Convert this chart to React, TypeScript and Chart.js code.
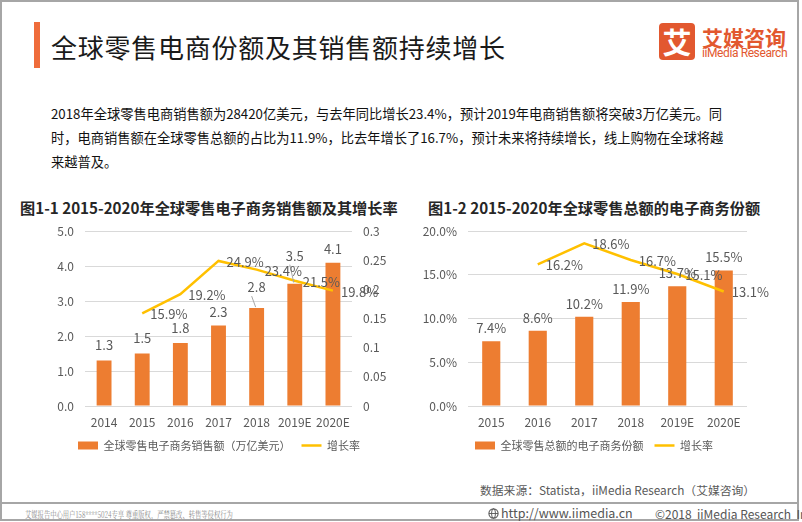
import React, { useEffect, useRef } from 'react';
import { Chart, registerables } from 'chart.js';

Chart.register(...registerables);

const FONT = "'Noto Sans CJK SC', 'Noto Sans', sans-serif";
const ORANGE = '#ED7D31';
const GOLD = '#FFC000';
const GREY = '#595959';

// Chart 1 data
const years1 = ['2014', '2015', '2016', '2017', '2018', '2019E', '2020E'];
const sales1 = [1.3, 1.5, 1.8, 2.3, 2.8, 3.5, 4.1];
const growth1 = [null, 0.159, 0.192, 0.249, 0.234, 0.215, 0.198];
const leftTicks1 = [0, 1, 2, 3, 4, 5];
const rightTicks1 = [0, 0.05, 0.1, 0.15, 0.2, 0.25, 0.3];

// Chart 2 data
const years2 = ['2015', '2016', '2017', '2018', '2019E', '2020E'];
const share2 = [7.4, 8.6, 10.2, 11.9, 13.7, 15.5];
const growth2 = [null, 16.2, 18.6, 16.7, 15.1, 13.1];
const ticks2 = [0, 5, 10, 15, 20];

const legendSales = '全球零售电子商务销售额（万亿美元）';
const legendShare = '全球零售总额的电子商务份额';
const legendGrowth = '增长率';

// label layout (distance of each bar's value label above the bar top, px)
const barLabelLift1 = [15, 15, 15, 14, 21, 28, 14];
const barLabelLift2 = [13, 13, 13, 13, 13, 13];

function makeLabelPlugin(
  fmtBar: (v: number) => string,
  fmtLine: (v: number) => string,
  lift: number[]
) {
  return {
    id: 'valueLabels',
    afterDatasetsDraw(chart: any) {
      const ctx = chart.ctx;
      ctx.save();
      ctx.font = `13px ${FONT}`;
      ctx.textBaseline = 'middle';
      chart.data.datasets.forEach((ds: any, i: number) => {
        const meta = chart.getDatasetMeta(i);
        meta.data.forEach((el: any, j: number) => {
          const v = ds.data[j];
          if (v == null) return;
          ctx.fillStyle = GREY;
          if (meta.type === 'bar') {
            const d = lift[j];
            ctx.textAlign = 'center';
            ctx.fillText(fmtBar(v), el.x, el.y - d);
            if (d > 18) {
              // leader line for a moved label
              ctx.strokeStyle = '#a6a6a6';
              ctx.lineWidth = 1;
              ctx.beginPath();
              ctx.moveTo(el.x - 5, el.y - d + 9);
              ctx.lineTo(el.x - 1, el.y - 1);
              ctx.stroke();
            }
          } else {
            ctx.textAlign = 'left';
            ctx.fillText(fmtLine(v), el.x + 8, el.y + 1);
          }
        });
      });
      ctx.restore();
    },
  };
}

function legendOptions() {
  return {
    position: 'bottom',
    labels: {
      usePointStyle: true,
      pointStyleWidth: 20,
      boxHeight: 8,
      padding: 11,
      color: GREY,
      font: { size: 11, family: FONT },
      generateLabels(chart: any) {
        const items = (Chart as any).defaults.plugins.legend.labels.generateLabels(chart);
        items.sort((a: any, b: any) => a.datasetIndex - b.datasetIndex);
        items.forEach((it: any) => {
          const ds = chart.data.datasets[it.datasetIndex];
          if (ds.type === 'line') {
            it.pointStyle = 'line';
            it.strokeStyle = GOLD;
            it.lineWidth = 2.5;
          } else {
            it.pointStyle = 'rect';
            it.fillStyle = ORANGE;
            it.lineWidth = 0;
          }
        });
        return items;
      },
    },
  };
}

const tickFont = { size: 12, family: FONT };

const xScale = {
  grid: { display: false, drawTicks: false },
  border: { display: false },
  ticks: { color: GREY, font: tickFont, padding: 9, maxRotation: 0 },
  afterFit: (s: any) => { s.height = 23; },
};

function config1(): any {
  return {
    data: {
      labels: years1,
      datasets: [
        {
          type: 'bar',
          label: legendSales,
          data: sales1,
          backgroundColor: ORANGE,
          borderWidth: 0,
          categoryPercentage: 1,
          barPercentage: 0.39,
          yAxisID: 'y',
          order: 1,
        },
        {
          type: 'line',
          label: legendGrowth,
          data: growth1,
          borderColor: GOLD,
          backgroundColor: GOLD,
          borderWidth: 2.5,
          pointRadius: 0,
          tension: 0,
          yAxisID: 'y1',
          order: 0,
        },
      ],
    },
    options: {
      responsive: false,
      animation: false,
      layout: { padding: { top: 6, left: 0, right: 0, bottom: 0 } },
      plugins: { legend: legendOptions(), tooltip: { enabled: false } },
      scales: {
        x: xScale,
        y: {
          position: 'left',
          min: leftTicks1[0],
          max: leftTicks1[leftTicks1.length - 1],
          afterBuildTicks: (s: any) => { s.ticks = leftTicks1.map((v) => ({ value: v })); },
          ticks: { color: GREY, font: tickFont, padding: 11, callback: (v: number) => v.toFixed(1) },
          grid: { color: '#D9D9D9', drawTicks: false, lineWidth: 1 },
          border: { display: false },
          afterFit: (s: any) => { s.width = 47; },
        },
        y1: {
          position: 'right',
          min: rightTicks1[0],
          max: rightTicks1[rightTicks1.length - 1],
          afterBuildTicks: (s: any) => { s.ticks = rightTicks1.map((v) => ({ value: v })); },
          ticks: { color: GREY, font: tickFont, padding: 11, callback: (v: number) => String(+v.toFixed(2)) },
          grid: { display: false, drawTicks: false },
          border: { display: false },
          afterFit: (s: any) => { s.width = 48; },
        },
      },
    },
    plugins: [makeLabelPlugin((v) => v.toFixed(1), (v) => (v * 100).toFixed(1) + '%', barLabelLift1)],
  };
}

function config2(): any {
  return {
    data: {
      labels: years2,
      datasets: [
        {
          type: 'bar',
          label: legendShare,
          data: share2,
          backgroundColor: ORANGE,
          borderWidth: 0,
          categoryPercentage: 1,
          barPercentage: 0.39,
          yAxisID: 'y',
          order: 1,
        },
        {
          type: 'line',
          label: legendGrowth,
          data: growth2,
          borderColor: GOLD,
          backgroundColor: GOLD,
          borderWidth: 2.5,
          pointRadius: 0,
          tension: 0,
          yAxisID: 'y',
          order: 0,
        },
      ],
    },
    options: {
      responsive: false,
      animation: false,
      layout: { padding: { top: 6, left: 0, right: 0, bottom: 0 } },
      plugins: { legend: legendOptions(), tooltip: { enabled: false } },
      scales: {
        x: xScale,
        y: {
          position: 'left',
          min: ticks2[0],
          max: ticks2[ticks2.length - 1],
          afterBuildTicks: (s: any) => { s.ticks = ticks2.map((v) => ({ value: v })); },
          ticks: { color: GREY, font: tickFont, padding: 11, callback: (v: number) => v.toFixed(1) + '%' },
          grid: { color: '#D9D9D9', drawTicks: false, lineWidth: 1 },
          border: { display: false },
          afterFit: (s: any) => { s.width = 56; },
        },
        // empty right-hand spacer axis keeps the legend centred like the original
        yPad: {
          position: 'right',
          ticks: { display: false },
          grid: { display: false, drawTicks: false },
          border: { display: false },
          afterFit: (s: any) => { s.width = 29; },
        },
      },
    },
    plugins: [makeLabelPlugin((v) => v.toFixed(1) + '%', (v) => v.toFixed(1) + '%', barLabelLift2)],
  };
}

function ChartCanvas({ make, left, top, width, height }: any) {
  const ref = useRef<HTMLCanvasElement>(null);
  useEffect(() => {
    const chart = new Chart(ref.current as HTMLCanvasElement, make());
    return () => chart.destroy();
  }, []);
  return (
    <canvas
      ref={ref}
      width={width}
      height={height}
      style={{ position: 'absolute', left, top, width, height }}
    />
  );
}

function Text({ left, cy, size, lh, children, style }: any) {
  const h = lh || Math.round(size * 1.4);
  return (
    <div
      style={{
        position: 'absolute',
        left,
        top: cy - h / 2,
        height: h,
        lineHeight: h + 'px',
        fontSize: size,
        fontFamily: FONT,
        whiteSpace: 'nowrap',
        ...style,
      }}
    >
      {children}
    </div>
  );
}

export default function App() {
  return (
    <div
      style={{
        position: 'fixed',
        left: 0,
        top: 0,
        width: 802,
        height: 522,
        background: '#fff',
        overflow: 'hidden',
        fontFamily: FONT,
      }}
    >
      {/* frame */}
      <div
        style={{
          position: 'absolute',
          left: 0,
          top: 0,
          width: 799,
          height: 521,
          boxSizing: 'border-box',
          border: '2px solid #a6a6a6',
        }}
      />
      {/* footer separator */}
      <div style={{ position: 'absolute', left: 0, top: 502, width: 799, height: 2, background: '#a6a6a6' }} />

      {/* title */}
      <div style={{ position: 'absolute', left: 34, top: 22, width: 6, height: 46, background: '#EF6C3B' }} />
      <Text left={51} cy={47} size={26} style={{ color: '#1a1a1a', letterSpacing: 0.75 }}>
        全球零售电商份额及其销售额持续增长
      </Text>

      {/* logo */}
      <div
        style={{
          position: 'absolute',
          left: 659,
          top: 23,
          width: 36,
          height: 37,
          borderRadius: 4,
          background: '#E2582F',
          color: '#fff',
          fontSize: 29,
          fontWeight: 700,
          lineHeight: '37px',
          textAlign: 'center',
          fontFamily: FONT,
        }}
      >
        艾
      </div>
      <Text left={702} cy={37} size={21} style={{ color: '#E2582F', fontWeight: 700, letterSpacing: 0 }}>
        艾媒咨询
      </Text>
      <Text left={702} cy={53} size={12} style={{ color: '#E2582F', letterSpacing: -0.4, fontFamily: "'Roboto', sans-serif" }}>
        iiMedia Research
      </Text>

      {/* paragraph */}
      <Text left={51} cy={113} size={13.25} style={{ color: '#111' }}>
        2018年全球零售电商销售额为28420亿美元，与去年同比增长23.4%，预计2019年电商销售额将突破3万亿美元。同
      </Text>
      <Text left={51} cy={137} size={13.25} style={{ color: '#111' }}>
        时，电商销售额在全球零售总额的占比为11.9%，比去年增长了16.7%，预计未来将持续增长，线上购物在全球将越
      </Text>
      <Text left={51} cy={161} size={13.25} style={{ color: '#111' }}>
        来越普及。
      </Text>

      {/* chart titles */}
      <Text left={20} cy={207} size={15.2} style={{ color: '#262626', fontWeight: 700 }}>
        图1-1 2015-2020年全球零售电子商务销售额及其增长率
      </Text>
      <Text left={428} cy={207} size={15.2} style={{ color: '#262626', fontWeight: 700 }}>
        图1-2 2015-2020年全球零售总额的电子商务份额
      </Text>

      <ChartCanvas make={config1} left={38} top={213} width={362} height={248} />
      <ChartCanvas make={config2} left={412} top={213} width={364} height={248} />

      {/* source */}
      <Text left={480} cy={489} size={11.8} style={{ color: GREY }}>
        数据来源：Statista，iiMedia Research（艾媒咨询）
      </Text>

      {/* footer */}
      <Text
        left={25}
        cy={514}
        size={9}
        style={{
          color: '#8a8a8a',
          fontFamily: "'Noto Serif CJK SC', 'DejaVu Serif', serif",
          transform: 'scaleX(0.7)',
          transformOrigin: 'left center',
        }}
      >
        艾媒报告中心用户158****5024专享 尊重版权，严禁篡改、转售等侵权行为
      </Text>
      <svg style={{ position: 'absolute', left: 488, top: 508 }} width={11} height={11} viewBox="0 0 11 11">
        <circle cx={5.5} cy={5.5} r={4.6} fill="none" stroke="#555" strokeWidth={1.1} />
        <ellipse cx={5.5} cy={5.5} rx={2} ry={4.6} fill="none" stroke="#555" strokeWidth={0.9} />
        <line x1={1} y1={5.5} x2={10} y2={5.5} stroke="#555" strokeWidth={0.9} />
      </svg>
      <Text left={501} cy={513} size={12.5} style={{ color: '#555' }}>
        http://www.iimedia.cn
      </Text>
      <Text left={655} cy={513} size={12} style={{ color: '#555' }}>
        ©2018&nbsp;&nbsp;iiMedia Research&nbsp;&nbsp;Inc
      </Text>
    </div>
  );
}
